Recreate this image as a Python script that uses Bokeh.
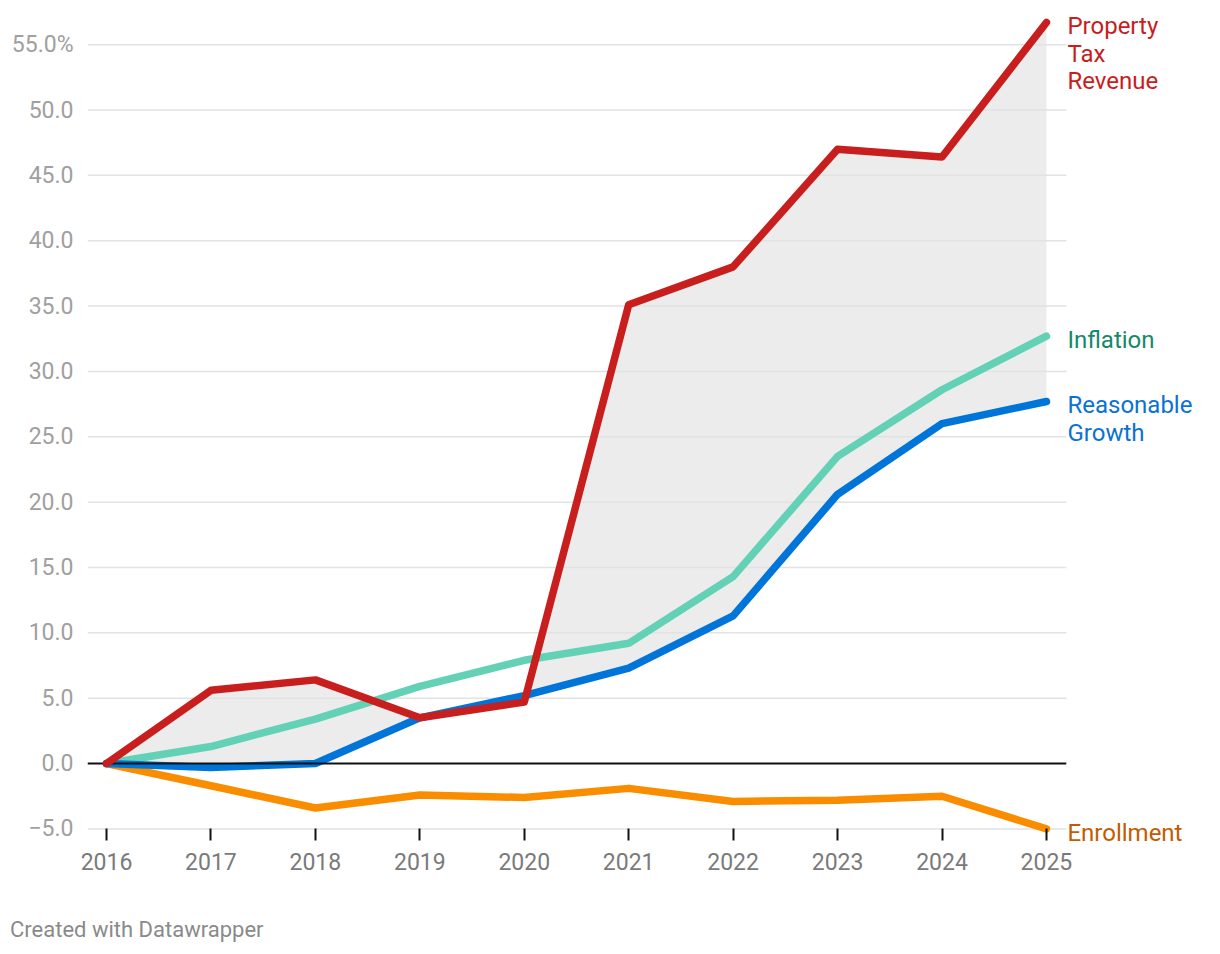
from bokeh.plotting import figure
from bokeh.models import Range1d, FixedTicker, Label, LinearAxis, Div
from bokeh.layouts import column
from bokeh.embed import file_html
from bokeh.resources import INLINE

years = [2016, 2017, 2018, 2019, 2020, 2021, 2022, 2023, 2024, 2025]
property_tax = [0.0, 5.6, 6.4, 3.5, 4.7, 35.1, 38.0, 47.0, 46.4, 56.7]
inflation = [0.0, 1.3, 3.4, 5.9, 7.9, 9.2, 14.3, 23.5, 28.6, 32.7]
reasonable = [0.0, -0.3, 0.0, 3.5, 5.2, 7.3, 11.3, 20.6, 26.0, 27.7]
enrollment = [0.0, -1.7, -3.4, -2.4, -2.6, -1.9, -2.9, -2.8, -2.5, -5.0]

y_ticks = [-5, 0, 5, 10, 15, 20, 25, 30, 35, 40, 45, 50, 55]
y_labels = ["\u22125.0", "0.0", "5.0", "10.0", "15.0", "20.0", "25.0", "30.0",
            "35.0", "40.0", "45.0", "50.0", "55.0%"]

series_labels = ["Property\nTax\nRevenue", "Inflation", "Reasonable\nGrowth", "Enrollment"]
series_last = [property_tax[-1], inflation[-1], reasonable[-1], enrollment[-1]]
label_colors = ["#c71e1d", "#14896b", "#0a72d4", "#c25c00"]

FONT = "Roboto"
GRID_X0 = 2015.818
GRID_X1 = 2025.19

p = figure(width=1212, height=900, output_backend="svg", toolbar_location=None,
           x_range=Range1d(2015.818, 2026.59), y_range=Range1d(-6.50, 57.46),
           min_border_left=87, min_border_right=0, min_border_top=12, min_border_bottom=52)
p.outline_line_color = None
p.xgrid.visible = False
p.ygrid.visible = False
p.background_fill_color = "white"
p.border_fill_color = "white"

# shaded band between property tax and reasonable growth
p.varea(x=years, y1=reasonable, y2=property_tax, fill_color="#ececec", fill_alpha=1.0)

# gridlines
gy = [t for t in y_ticks if t != 0]
p.segment(x0=[GRID_X0] * len(gy), x1=[GRID_X1] * len(gy), y0=gy, y1=gy,
          line_color="#e2e2e2", line_width=1.5)

lw = 7.5
p.line(years, enrollment, line_color="#fa8c00", line_width=lw, line_cap="round", line_join="round")
p.line(years, inflation, line_color="#63d1b5", line_width=lw, line_cap="round", line_join="round")
p.line(years, reasonable, line_color="#0075d9", line_width=lw, line_cap="round", line_join="round")
p.segment(x0=[GRID_X0], x1=[GRID_X1], y0=[0], y1=[0], line_color="#111111", line_width=2)
p.line(years, property_tax, line_color="#c91e1e", line_width=lw, line_cap="round", line_join="round")

for txt, yv, col in zip(series_labels, series_last, label_colors):
    p.add_layout(Label(x=years[-1], y=yv, text=txt, text_color=col, text_font=FONT,
                       text_font_size="24px", text_baseline="top", text_align="left",
                       x_offset=21, y_offset=10, text_line_height=0.98))

# axes
p.yaxis.ticker = FixedTicker(ticks=y_ticks)
p.yaxis.major_label_overrides = {float(t): l for t, l in zip(y_ticks, y_labels)}
p.yaxis.axis_line_color = None
p.yaxis.major_tick_line_color = None
p.yaxis.minor_tick_line_color = None
p.yaxis.major_label_standoff = 8
p.yaxis.major_label_text_font = FONT
p.yaxis.major_label_text_font_size = "23px"
p.yaxis.major_label_text_color = "#a0a0a0"

# tick marks drawn at y = -5
tick_axis = p.xaxis[0]
tick_axis.ticker = FixedTicker(ticks=years)
tick_axis.fixed_location = -5
tick_axis.axis_line_color = None
tick_axis.major_tick_line_color = "#111111"
tick_axis.major_tick_line_width = 2
tick_axis.major_tick_out = 12
tick_axis.major_tick_in = 0
tick_axis.minor_tick_line_color = None
tick_axis.major_label_text_alpha = 0

# year labels below the frame
label_axis = LinearAxis(ticker=FixedTicker(ticks=years),
                        major_label_overrides={float(y): str(y) for y in years})
label_axis.axis_line_color = None
label_axis.major_tick_line_color = None
label_axis.minor_tick_line_color = None
label_axis.major_tick_out = 0
label_axis.major_tick_in = 0
label_axis.major_label_standoff = 4
label_axis.major_label_text_font = FONT
label_axis.major_label_text_font_size = "23px"
label_axis.major_label_text_color = "#7a7a7a"
p.add_layout(label_axis, "below")

footer = Div(text="Created with Datawrapper", width=400, height=30,
             margin=(17, 0, 0, 10),
             styles={"font-family": "Roboto", "font-size": "22px", "color": "#8a8a8a",
                     "line-height": "26px", "white-space": "nowrap"})

layout = column(p, footer, spacing=0)
open("out.html", "w").write(file_html(layout, INLINE))
